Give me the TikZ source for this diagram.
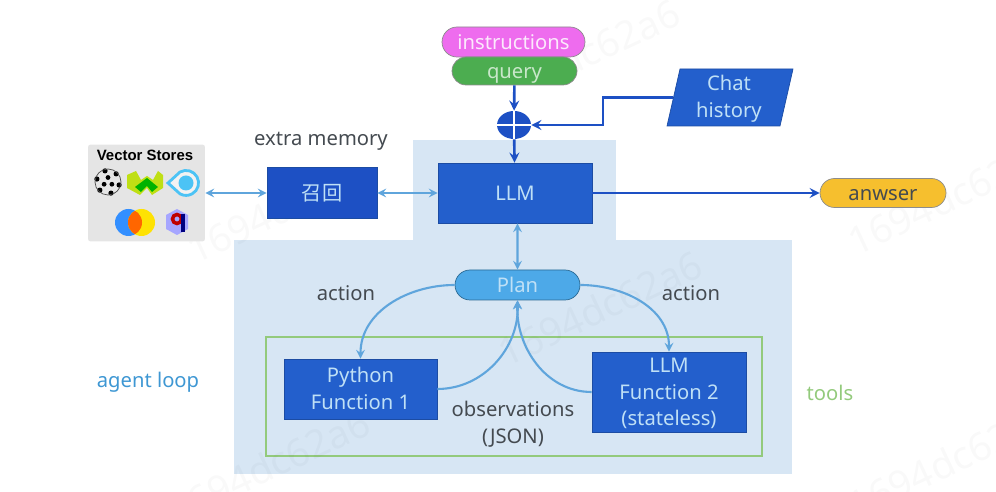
\documentclass[tikz,border=0pt]{standalone}
\usepackage{fontspec}
\setmainfont{Noto Sans}
\newfontfamily\cjk{Noto Sans CJK SC}
\newfontfamily\panelfont{Liberation Sans}
\usepackage{xcolor}
\usetikzlibrary{shapes.misc,shapes.geometric}
\definecolor{darkblue}{HTML}{235FCC}
\definecolor{deepblue}{HTML}{1D50C4}
\definecolor{paleblue}{HTML}{D7E6F4}
\definecolor{wireblue}{HTML}{5FA5DC}
\definecolor{textblue}{HTML}{BFE0F6}
\definecolor{loopblue}{HTML}{3E97D3}
\definecolor{toolgreen}{HTML}{93CA7C}
\definecolor{labelgrey}{HTML}{444A50}
\definecolor{pinkfill}{HTML}{EE6CEE}
\definecolor{queryfill}{HTML}{4CAD50}
\definecolor{planfill}{HTML}{4DA9E8}
\definecolor{answerfill}{HTML}{F6BF2E}
\definecolor{eyecyan}{HTML}{4CC3F5}
\tikzset{
	fnbox/.style = {fill = darkblue, draw = darkblue!80!black, text = textblue, align = center, inner sep = 0pt, font = \fontsize{11.5}{15.3}\selectfont},
	pill/.style = {rounded rectangle, inner sep = 0pt, text height = 10.7pt, text depth = 2.5pt, font = \fontsize{11.5}{15.3}\selectfont},
	note/.style = {text = labelgrey, align = center, inner sep = 0pt, font = \fontsize{11.5}{15.3}\selectfont},
	wire/.style = {wireblue, line width = 1.2pt},
	mainwire/.style = {deepblue, line width = 1.5pt},
	mark text/.style = {rotate = 25, text = black, opacity = 0.025, inner sep = 0pt, font = \fontsize{22}{22}\selectfont},
}
\begin{document}
\begin{tikzpicture}[x = 0.02cm, y = -0.02cm]
		\useasboundingbox (0,0) rectangle (996,492);
		% shaded regions and the tools frame
		\fill[paleblue] (413,140) rectangle (616,241);
		\fill[paleblue] (234,240) rectangle (792,474);
		\draw[toolgreen, line width = 1.3pt] (266,337) rectangle (762,456);
		\node (markone) [mark text] at (618,38) {dc62a6};
		\node (marktwo) [mark text] at (930,206) {1694dc62};
		\node (markthree) [mark text] at (600,308) {1694dc62a6};
		\node (markfour) [mark text] at (240,228) {1694d};
		\node (markfive) [mark text] at (268,466) {1694dc62a6};
		\node (marksix) [mark text] at (930,470) {1694dc62};
		% vector store panel
		\node (vector) [fill = black!10, rounded corners = 1.5pt, minimum width = 2.34cm, minimum height = 1.94cm, inner sep = 0pt] at (146.5,193) {};
		\node (vectortitle) [inner sep = 0pt, font = \fontsize{8.5}{10}\panelfont\bfseries] at (145,155) {Vector Stores};
		\foreach \a in {0,60,...,300}
			\fill (108,182) ++(\a+15:11.5) circle (2.6);
		\foreach \a in {30,150,270}
			\fill (108,182) ++(\a:4.5) circle (2.4);
		\draw[line width = 0.4pt, black!70] (108,182) circle (13);
		\fill[yellow!75!green] (127,175) -- (136,171) -- (141,180) -- (147,176) -- (153,180) -- (158,171) -- (163,175) -- (163,188) -- (152,195) -- (147,188) -- (140,195) -- (127,188) -- cycle;
		\fill[green!70!black] (135,187) -- (147,178) -- (158,187) -- (152,192) -- (147,186) -- (141,192) -- cycle;
		\draw[eyecyan, line width = 1.6pt, fill = black!5] (168,183) -- (180,172) arc (-119:119:12.5) -- cycle;
		\fill[eyecyan] (186,183) circle (7.5);
		\fill[blue!55!cyan!80!white] (128.5,222.5) circle (13.5);
		\fill[yellow!85!orange] (141.5,222.5) circle (13.5);
		\begin{scope}
			\clip (128.5,222.5) circle (13.5);
			\fill[orange!80!red] (141.5,222.5) circle (13.5);
		\end{scope}
		\fill[blue!35!white] (177,209) -- (188,215) -- (188,229) -- (177,235) -- (166,229) -- (166,215) -- cycle;
		\draw[red!75!black, line width = 2pt] (177,219) circle (4.5);
		\draw[blue!50!black, line width = 2pt] (183,214) -- (183,232);
		% boxes
		\node (recall) [fnbox, fill = deepblue, minimum width = 2.2cm, minimum height = 1.02cm] at (322,193) {\cjk 召回};
		\node (llm) [fnbox, minimum width = 3.08cm, minimum height = 1.2cm] at (515,193) {LLM};
		\node (python) [fnbox, minimum width = 3.06cm, minimum height = 1.2cm] at (360.5,389) {};
		\node (pythontext) [fnbox, fill = none, draw = none] at (360.5,388.5) {Python\\Function 1};
		\node (stateless) [fnbox, minimum width = 3.08cm, minimum height = 1.6cm] at (669,392) {};
		\node (statelesstext) [fnbox, fill = none, draw = none] at (669,393.5) {LLM\\Function 2\\(stateless)};
		\node (chat) [fnbox, xslant = 0.228, transform shape, minimum width = 2.26cm, minimum height = 1.14cm] at (730,97.5) {};
		\node (chattext) [fnbox, fill = none, draw = none] at (729,99) {Chat\\history};
		\node (instructions) [pill, fill = pinkfill, draw = black!45, text = white!85!pinkfill, minimum width = 2.86cm, minimum height = 0.6cm] at (513.5,42) {instructions};
		\node (query) [pill, fill = queryfill, draw = black!45, text = white!70!queryfill, minimum width = 2.5cm, minimum height = 0.56cm] at (514.5,71) {query};
		\node (plan) [pill, fill = planfill, draw = loopblue!70!black, text = textblue, minimum width = 2.5cm, minimum height = 0.6cm] at (517.5,285) {Plan};
		\node (anwser) [pill, fill = answerfill, draw = black!45, text = labelgrey, minimum width = 2.52cm, minimum height = 0.58cm] at (883,193) {anwser};
		\node (plus) [ellipse, fill = deepblue, minimum width = 0.68cm, minimum height = 0.56cm, inner sep = 0pt] at (514,125) {};
		\draw[white, line width = 1pt] (plus.north) -- (plus.south);
		\draw[white, line width = 1pt] (plus.west) -- (plus.east);
		\coordinate (bendchat) at (603,110);
		% connectors
		\draw[mainwire, -stealth] (query) -- (plus);
		\draw[mainwire, -stealth] (plus) -- (llm);
		\draw[mainwire, -stealth] (chat.west) -| (bendchat) |- (plus.east);
		\draw[mainwire, -stealth] (llm) -- (anwser);
		\draw[wire, stealth-stealth] (vector) -- (recall);
		\draw[wire, stealth-stealth] (recall) -- (llm);
		\draw[wire, stealth-stealth] (llm.south -| plan) -- (plan);
		\draw[wire, -stealth] (plan.west) to[out = 180, in = 90] (python.north);
		\draw[wire, -stealth] (plan.east) to[out = 0, in = 90] (stateless.north);
		\draw[wire, -stealth] (python.east) to[out = 0, in = -88] (plan.south);
		\draw[wire, -stealth] (stateless.west) to[out = 180, in = -92] (plan.south);
		% labels
		\node (extra) [note] at (321,141) {extra memory};
		\node (actionleft) [note] at (346,293) {action};
		\node (actionright) [note] at (691,293) {action};
		\node (observations) [note] at (513,424) {observations\\(JSON)};
		\node (agentloop) [note, text = loopblue] at (148,382) {agent loop};
		\node (tools) [note, text = toolgreen] at (830,393) {tools};
	\end{tikzpicture}
\end{document}
